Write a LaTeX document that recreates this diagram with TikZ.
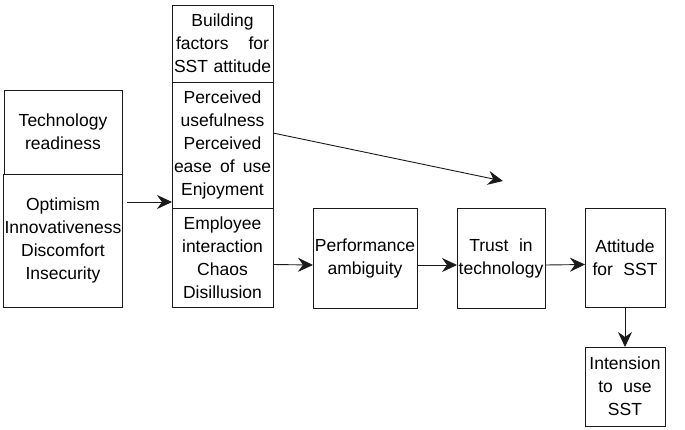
\documentclass[tikz,border=0pt]{standalone}
\usepackage{fontspec}
\setmainfont{Liberation Sans}
\usetikzlibrary{arrows.meta, positioning, calc}
\definecolor{cline}{HTML}{1A1A1A}
\newcommand{\fullline}[1]{\makebox[97pt][s]{#1}}
\newcommand{\wsp}{\hspace{0.6em}}
\tikzset{
  every picture/.style={line width=0.9pt},
  box/.style={draw=cline, align=center, inner sep=1pt, outer sep=0pt, anchor=north west,
    font=\fontsize{17.5}{23}\selectfont},
  part/.style={box, anchor=north},
  arrow/.style={-{Stealth[length=15pt, width=14pt, inset=5pt]}, draw=cline},
}

\begin{document}
\begin{tikzpicture}[x=1pt, y=-1pt]
  \useasboundingbox (0,0) rectangle (685,429);
  \node[box, minimum width=118pt, minimum height=84pt] (tr) at (4,90) {Technology\\readiness};
  \node[part, minimum width=118pt, minimum height=133pt, below=0pt of tr] (trdim) {Optimism\\Innovativeness\\Discomfort\\Insecurity};
  \node[box, minimum width=101pt, minimum height=77pt] (bf) at (172,5) {Building\\\makebox[93pt][s]{factors for}\\\fullline{SST attitude}};
  \node[part, minimum width=101pt, minimum height=126pt, below=0pt of bf] (pu) {Perceived\\usefulness\\Perceived\\\fullline{ease of use}\\Enjoyment};
  \node[part, minimum width=101pt, minimum height=99pt, below=0pt of pu] (ei) {Employee\\interaction\\Chaos\\Disillusion};
  \node[box, minimum width=104pt, minimum height=100pt] (perf) at (313,208) {Performance\\ambiguity};
  \node[box, minimum width=88pt, minimum height=100pt] (trust) at (457,208) {Trust\wsp in\\technology};
  \node[box, minimum width=80pt, minimum height=99pt] (att) at (585,208) {Attitude\\for\wsp SST};
  \node[box, minimum width=80pt, minimum height=79pt] (int) at (585,347) {Intension\\to\wsp use\\SST};
  \coordinate (tip) at (503,181);
  \coordinate (a) at ([xshift=5pt, yshift=6pt]trdim.east |- pu.south);
  \draw[arrow] (a) -- (a -| pu.west);
  \draw[arrow] ([yshift=12pt]pu.east) -- (tip);
  \draw[arrow] ([yshift=-7pt]ei.east) -- ([yshift=-7pt]perf.west);
  \draw[arrow] ([yshift=-7pt]perf.east) -- ([yshift=-7pt]trust.west);
  \draw[arrow] ([yshift=-7pt]trust.east) -- ([yshift=-7pt]att.west);
  \draw[arrow] (att.south) -- (int.north);
\end{tikzpicture}
\end{document}
